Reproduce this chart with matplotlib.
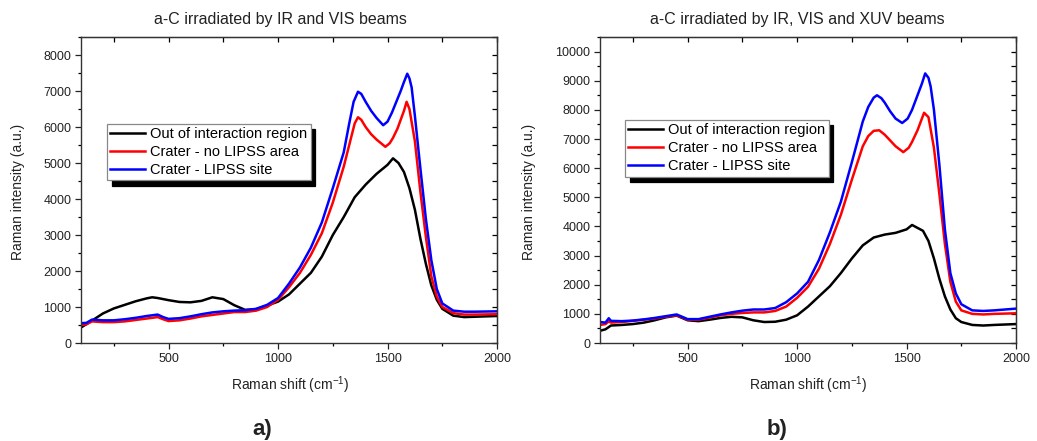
import matplotlib
matplotlib.use("Agg")
import matplotlib.pyplot as plt
from matplotlib.ticker import MultipleLocator

plt.rcParams['font.family'] = ['Liberation Sans', 'DejaVu Sans']
plt.rcParams['mathtext.default'] = 'regular'

# panel a) - IR and VIS
a_x_out = [100,150,200,250,300,350,400,425,450,500,550,600,650,700,750,800,850,900,950,1000,1050,1100,1150,1200,1250,1300,1350,1400,1450,1500,1525,1550,1575,1600,1625,1650,1675,1700,1725,1750,1800,1850,1900,1950,2000]
a_y_out = [430,620,820,960,1060,1160,1240,1270,1250,1190,1140,1130,1170,1270,1220,1050,920,940,1040,1150,1350,1650,1950,2400,3000,3500,4050,4400,4700,4950,5130,5000,4750,4300,3700,2900,2200,1600,1200,950,760,720,730,740,750]

a_x_nolipss = [100,125,150,200,250,300,350,400,450,475,500,550,600,650,700,750,800,850,900,950,1000,1050,1100,1150,1200,1250,1300,1325,1350,1365,1380,1400,1425,1450,1490,1510,1525,1545,1560,1575,1587,1600,1625,1650,1675,1700,1725,1750,1800,1850,1900,2000]
a_y_nolipss = [500,520,600,580,580,600,640,680,720,660,610,630,680,740,780,820,860,860,900,1000,1200,1550,1950,2450,3050,3900,4900,5500,6100,6270,6200,6000,5800,5650,5450,5550,5700,5950,6200,6450,6700,6500,5600,4200,2950,1850,1290,1000,830,790,790,800]

a_x_lipss = [100,125,150,200,250,300,350,400,450,475,500,550,600,650,700,750,800,850,900,950,1000,1050,1100,1150,1200,1250,1300,1325,1345,1365,1380,1400,1425,1450,1480,1500,1520,1540,1560,1575,1590,1600,1610,1625,1650,1675,1700,1725,1750,1800,1850,1900,2000]
a_y_lipss = [550,560,650,630,630,660,700,750,790,720,670,690,740,800,850,880,900,910,950,1060,1250,1650,2100,2650,3350,4300,5300,6100,6700,6980,6920,6700,6450,6250,6050,6150,6400,6700,7000,7250,7480,7350,7100,6300,4850,3450,2300,1500,1100,900,870,870,880]

# panel b) - IR, VIS and XUV
b_x_out = [100,125,150,200,250,300,350,400,450,500,550,600,650,700,750,800,850,900,950,1000,1050,1100,1150,1200,1250,1300,1350,1400,1450,1500,1525,1550,1575,1600,1625,1650,1675,1700,1725,1750,1800,1850,1900,2000]
b_y_out = [420,470,600,620,650,700,780,880,940,780,750,800,860,900,880,780,720,730,800,950,1250,1600,1950,2400,2900,3350,3620,3720,3780,3900,4050,3950,3850,3500,2900,2200,1600,1150,850,720,620,600,620,650]

b_x_nolipss = [100,125,140,150,200,250,300,350,400,450,475,500,550,600,650,700,750,800,850,900,950,1000,1050,1100,1150,1200,1250,1300,1325,1350,1375,1400,1425,1450,1485,1510,1525,1550,1565,1580,1600,1625,1650,1675,1700,1725,1750,1800,1850,1900,2000]
b_y_nolipss = [620,650,740,700,720,760,800,840,900,950,880,800,800,870,950,1000,1030,1050,1050,1100,1250,1550,1930,2550,3400,4400,5600,6750,7100,7280,7300,7150,6950,6750,6550,6700,6900,7300,7600,7900,7750,6700,5100,3400,2100,1420,1120,1000,980,1000,1020]

b_x_lipss = [100,125,140,150,200,250,300,350,400,450,475,500,550,600,650,700,750,800,850,900,950,1000,1050,1100,1150,1200,1250,1300,1325,1350,1365,1385,1400,1425,1450,1480,1505,1525,1550,1570,1585,1600,1610,1625,1650,1675,1700,1725,1750,1800,1850,1900,2000]
b_y_lipss = [720,700,850,760,750,770,810,860,920,980,900,820,820,900,980,1050,1110,1150,1150,1200,1400,1700,2100,2850,3800,4850,6200,7600,8100,8420,8500,8400,8250,7950,7700,7550,7700,8000,8500,8900,9250,9100,8800,8000,6100,3900,2400,1700,1330,1120,1100,1120,1180]

labels = ['Out of interaction region', 'Crater - no LIPSS area', 'Crater - LIPSS site']
colors = ['black', 'red', 'blue']

fig = plt.figure(figsize=(10.37, 4.41), dpi=100)

def make_panel(pos, series, ymax, title, title_x, leg_anchor):
    ax = fig.add_axes(pos)
    for (x, y), lab, c in zip(series, labels, colors):
        ax.plot(x, y, color=c, lw=1.8, label=lab)
    ax.set_xlim(100, 2000)
    ax.set_ylim(0, ymax)
    ax.xaxis.set_major_locator(MultipleLocator(500))
    ax.xaxis.set_minor_locator(MultipleLocator(250))
    ax.yaxis.set_major_locator(MultipleLocator(1000))
    ax.yaxis.set_minor_locator(MultipleLocator(500))
    ax.tick_params(which='major', direction='out', length=4, width=0.9, labelsize=9, colors='#222222', pad=3)
    ax.tick_params(which='minor', direction='out', length=2.5, width=0.9)
    for s in ax.spines.values():
        s.set_linewidth(1.0)
        s.set_color('#333333')
    # mirrored inward ticks on top and right
    top = ax.secondary_xaxis('top')
    top.xaxis.set_major_locator(MultipleLocator(500))
    top.xaxis.set_minor_locator(MultipleLocator(250))
    top.tick_params(which='both', direction='in', length=3.5, width=0.9, labeltop=False)
    right = ax.secondary_yaxis('right')
    right.yaxis.set_major_locator(MultipleLocator(1000))
    right.yaxis.set_minor_locator(MultipleLocator(500))
    right.tick_params(which='both', direction='in', length=3.5, width=0.9, labelright=False)
    leg = ax.legend(loc='upper left', bbox_to_anchor=leg_anchor, fontsize=10.5,
                    frameon=True, fancybox=False, framealpha=1, edgecolor='#888888',
                    handlelength=2.4, handletextpad=0.35, borderpad=0.22,
                    labelspacing=0.28, borderaxespad=0,
                    shadow={'ox': 3.5, 'oy': -4, 'facecolor': 'black', 'edgecolor': 'black', 'alpha': 1})
    leg.get_frame().set_linewidth(0.9)
    fig.text(title_x, 0.955, title, ha='center', va='center', fontsize=11.5, color='#222222')
    return ax

ax1 = make_panel([0.0781, 0.2222, 0.4012, 0.6939],
                 [(a_x_out, a_y_out), (a_x_nolipss, a_y_nolipss), (a_x_lipss, a_y_lipss)],
                 8500, 'a-C irradiated by IR and VIS beams', 280 / 1037, (0.0625, 0.716))
ax2 = make_panel([0.5786, 0.2222, 0.4012, 0.6939],
                 [(b_x_out, b_y_out), (b_x_nolipss, b_y_nolipss), (b_x_lipss, b_y_lipss)],
                 10500, 'a-C irradiated by IR, VIS and XUV beams', 797 / 1037, (0.060, 0.729))

for xc in (290, 808):
    fig.text(xc / 1037, 1 - 385 / 441, 'Raman shift (cm$^{-1}$)', ha='center', va='center', fontsize=10, color='#222222')
for xc in (18, 529):
    fig.text(xc / 1037, 1 - 192 / 441, 'Raman intensity (a.u.)', ha='center', va='center', rotation=90, fontsize=10, color='#222222')

fig.text(262 / 1037, 1 - 429 / 441, 'a)', ha='center', va='center', fontsize=16, fontweight='bold', color='#222222')
fig.text(777 / 1037, 1 - 429 / 441, 'b)', ha='center', va='center', fontsize=16, fontweight='bold', color='#222222')

fig.savefig('out.png', dpi=100)
